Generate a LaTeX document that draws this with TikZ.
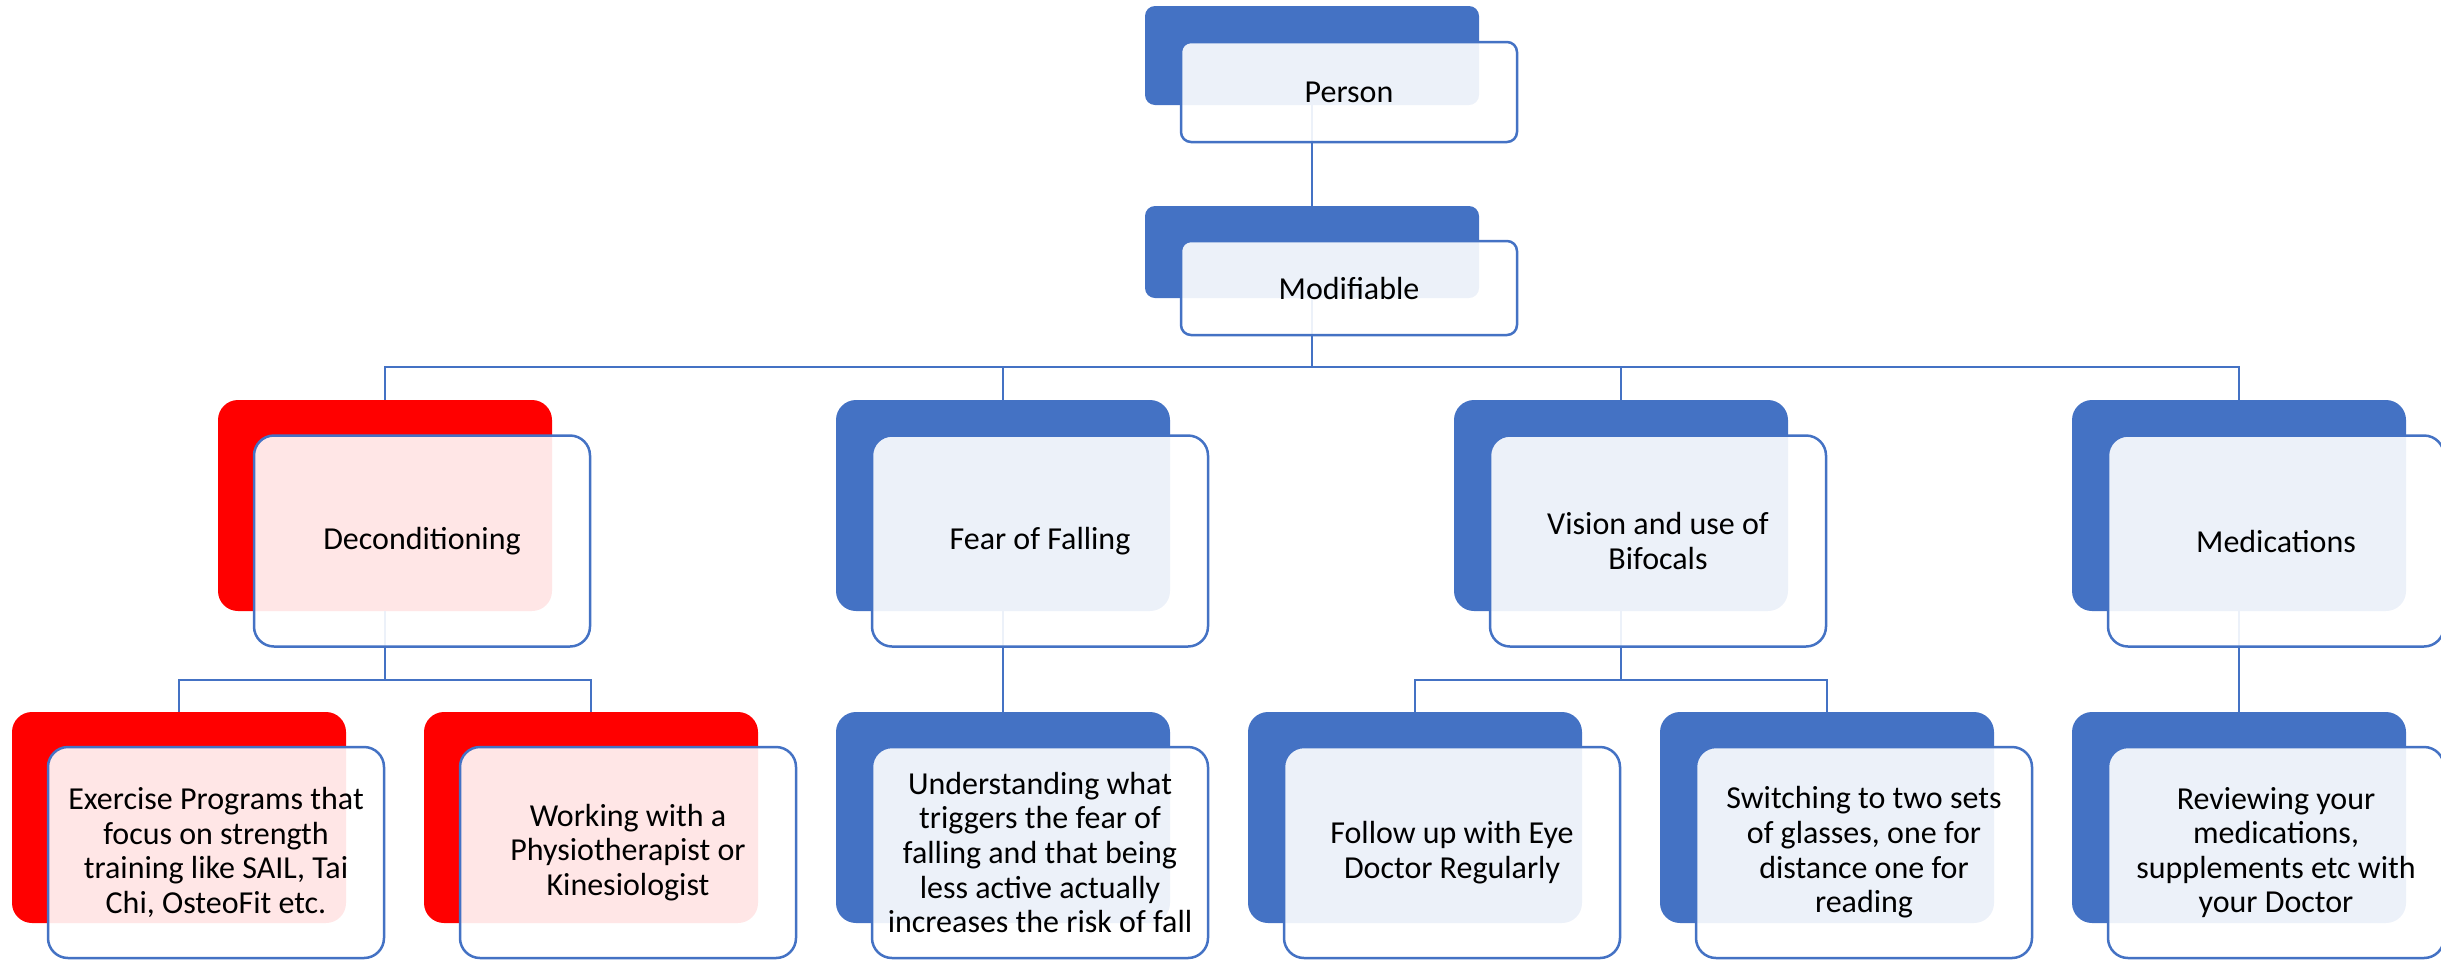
\documentclass[tikz,border=0pt]{standalone}
\usepackage{fontspec}
\setmainfont{Carlito}
\definecolor{accent}{HTML}{4472C4}
\definecolor{alert}{HTML}{FF0000}
\begin{document}
\begin{tikzpicture}[x=0.5pt,y=-0.5pt,
  back/.style={rectangle, fill=#1, draw=none, inner sep=0pt, minimum width=167pt},
  back/.default=accent,
  card/.style={rectangle, draw=accent, line width=1.25pt, fill=white,
    fill opacity=0.9, text opacity=1, inner sep=0pt, minimum width=168pt,
    align=center, font=\fontsize{16pt}{17.3pt}\selectfont},
  tall/.style={minimum height=105.5pt, rounded corners=10pt},
  conn/.style={draw=accent, line width=1pt}
]
\useasboundingbox (0,0) rectangle (2441,960);

% ---- back plates ----
\node[back, minimum height=49.5pt, rounded corners=5pt] (person) at (1312,55.5) {};
\node[back, minimum height=46pt, rounded corners=5pt] (modif) at (1312,252) {};

\node[back=alert, tall] (decond) at (385,505.5) {};
\node[back, tall] (fear) at (1003,505.5) {};
\node[back, tall] (vision) at (1621,505.5) {};
\node[back, tall] (meds) at (2239,505.5) {};

\node[back=alert, tall] (exer) at (179,817.5) {};
\node[back=alert, tall] (physio) at (591,817.5) {};
\node[back, tall] (under) at (1003,817.5) {};
\node[back, tall] (eye) at (1415,817.5) {};
\node[back, tall] (glasses) at (1827,817.5) {};
\node[back, tall] (review) at (2239,817.5) {};

% ---- connectors ----
\coordinate (busA) at (1312,367);
\coordinate (busB) at (385,680);
\coordinate (busC) at (1621,680);

\draw[conn] (person.south) -- (modif.north);
\draw[conn] (modif.south) -- (busA) -| (decond.north);
\draw[conn] (busA) -| (fear.north);
\draw[conn] (busA) -| (vision.north);
\draw[conn] (busA) -| (meds.north);

\draw[conn] (decond.south) -- (busB) -| (exer.north);
\draw[conn] (busB) -| (physio.north);
\draw[conn] (fear.south) -- (under.north);
\draw[conn] (vision.south) -- (busC) -| (eye.north);
\draw[conn] (busC) -| (glasses.north);
\draw[conn] (meds.south) -- (review.north);

% ---- text cards ----
\node[card, minimum height=50pt, rounded corners=5pt] (personT) at (1349,92) {Person};
\node[card, minimum height=47pt, rounded corners=5pt] (modifT) at (1349,288) {Modifiable};

\node[card, tall] (decondT) at (422,541) {Deconditioning};
\node[card, tall] (fearT) at (1040,541) {Fear of Falling};
\node[card, tall] (visionT) at (1658,541) {Vision and use of\\Bifocals};
\node[card, tall] (medsT) at (2276,541) {Medications};

\node[card, tall] (exerT) at (216,852.5) {Exercise Programs that\\focus on strength\\training like SAIL, Tai\\Chi, OsteoFit etc.};
\node[card, tall] (physioT) at (628,852.5) {Working with a\\Physiotherapist or\\Kinesiologist};
\node[card, tall] (underT) at (1040,852.5) {Understanding what\\triggers the fear of\\falling and that being\\less active actually\\increases the risk of fall};
\node[card, tall] (eyeT) at (1452,852.5) {Follow up with Eye\\Doctor Regularly};
\node[card, tall] (glassesT) at (1864,852.5) {Switching to two sets\\of glasses, one for\\distance one for\\reading};
\node[card, tall] (reviewT) at (2276,852.5) {Reviewing your\\medications,\\supplements etc with\\your Doctor};
\end{tikzpicture}
\end{document}
